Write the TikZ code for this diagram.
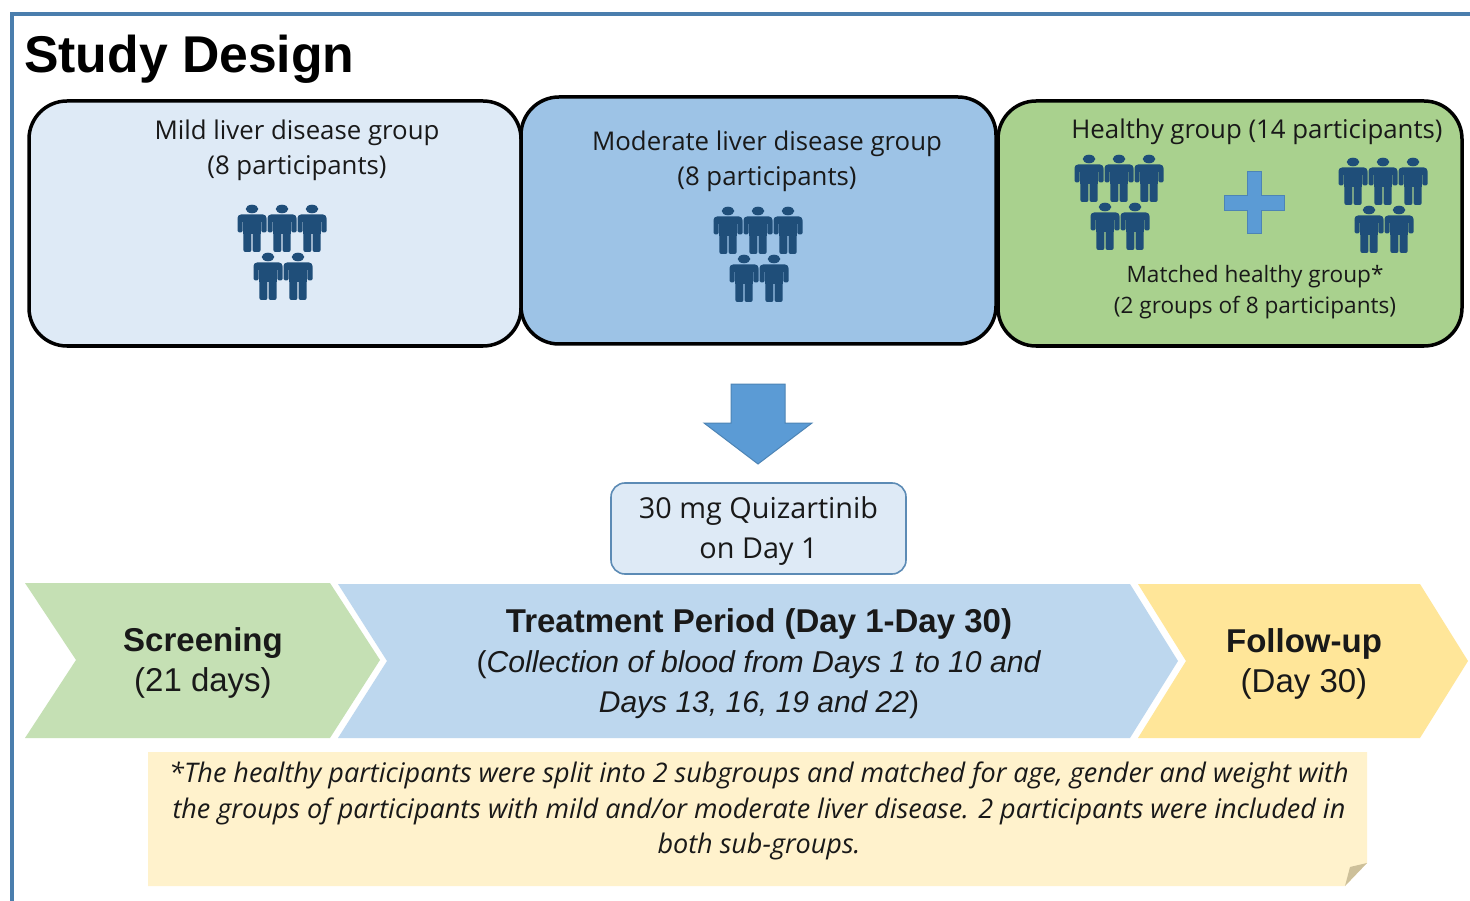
\documentclass[tikz,border=0pt]{standalone}
\usepackage{fontspec}
\setmainfont{Open Sans}
\newfontfamily\headfont{Liberation Sans}
\definecolor{frameblue}{HTML}{4A7EAD}
\definecolor{personblue}{HTML}{1F4E79}
\definecolor{lightblue}{HTML}{DEEAF6}
\definecolor{midblue}{HTML}{9DC3E6}
\definecolor{okgreen}{HTML}{A9D18E}
\definecolor{arrowblue}{HTML}{5B9BD5}
\definecolor{chgreen}{HTML}{C5E0B4}
\definecolor{chblue}{HTML}{BDD7EE}
\definecolor{chyellow}{HTML}{FFE699}
\definecolor{notecol}{HTML}{FFF2CC}
\definecolor{foldcol}{HTML}{CDC09A}
\tikzset{
  x=1pt,y=-1pt,
  groupbox/.style={draw=black,line width=3.5pt,rounded corners=38pt},
  body/.style={font=\fontsize{25.8}{35}\selectfont,align=center,inner sep=0pt,text=black!90},
  small/.style={font=\fontsize{22.6}{31}\selectfont,align=center,inner sep=0pt,text=black!90},
  chtext/.style={font=\fontsize{33}{40}\selectfont\headfont,align=center,inner sep=0pt,text=black!90},
  person/.pic={
    \fill[personblue] (0,5) ellipse [x radius=6.3,y radius=4.3];
    \fill[personblue,rounded corners=3.5pt] (-14.5,18) -- (-14.5,10.5) -- (14.5,10.5) -- (14.5,18) -- cycle;
    \fill[personblue,rounded corners=1.5pt] (-14.5,14) rectangle (-9.4,28.5);
    \fill[personblue,rounded corners=1.5pt] (9.4,14) rectangle (14.5,28.5);
    \fill[personblue] (-8.6,11) rectangle (8.6,30);
    \fill[personblue,rounded corners=2pt] (-8.6,26) rectangle (-0.6,48);
    \fill[personblue,rounded corners=2pt] (0.6,26) rectangle (8.6,48);
  },
  crowd/.pic={
    \pic at (-30,0) {person};
    \pic at (0,0) {person};
    \pic at (30,0) {person};
    \pic at (-14,48) {person};
    \pic at (16,48) {person};
  }
}
\begin{document}
\begin{tikzpicture}
\useasboundingbox (0,0) rectangle (1470,901);
\fill[white] (0,0) rectangle (1470,901);
\draw[frameblue,line width=3.2pt] (1470,14) -- (12,14) -- (12,901);
\node[anchor=west,inner sep=0pt,font=\fontsize{51.7}{51}\selectfont\headfont\bfseries] (title) at (24,59) {Study Design};

\path[groupbox,fill=lightblue] (29,101) rectangle (521,346);
\path[groupbox,fill=midblue] (521,97) rectangle (996,344);
\path[groupbox,fill=okgreen] (998,101) rectangle (1462,346);

\node[body] (mild) at (297,150) {Mild liver disease group\\(8 participants)};
\node[body] (moderate) at (767,161) {Moderate liver disease group\\(8 participants)};
\node[body] (healthy) at (1257,132) {Healthy group (14 participants)};
\node[small] (matched) at (1255,292) {Matched healthy group*\\(2 groups of 8 participants)};

\pic at (282,204) {crowd};
\pic at (758,206) {crowd};
\pic at (1119,154) {crowd};
\pic at (1383,157) {crowd};

\fill[arrowblue,draw=arrowblue!85!black,line width=1pt]
  (1247,172) -- (1261,172) -- (1261,196) -- (1284,196) -- (1284,211) -- (1261,211) -- (1261,234)
  -- (1247,234) -- (1247,211) -- (1224,211) -- (1224,196) -- (1247,196) -- cycle;

\fill[arrowblue,draw=arrowblue!85!black,line width=1pt]
  (731,384) -- (785,384) -- (785,423) -- (812,423) -- (758,464) -- (704,423) -- (731,423) -- cycle;

\node[draw=frameblue!90,line width=1.6pt,fill=lightblue,rounded corners=14pt,minimum width=295pt,minimum height=91pt,
  inner sep=0pt] (dose) at (758.5,528.5) {};
\node[font=\fontsize{28.8}{40}\selectfont,align=center,inner sep=0pt,text=black!90] (dosetext) at (758.5,531) {30 mg Quizartinib\\on Day 1};

\fill[chgreen] (25,583) -- (330,583) -- (380,660) -- (330,738) -- (25,738) -- (76,660) -- cycle;
\fill[chblue] (338,584) -- (1130,584) -- (1178,661) -- (1130,738) -- (338,738) -- (387,661) -- cycle;
\fill[chyellow] (1138,584) -- (1420,584) -- (1468,661) -- (1420,738) -- (1138,738) -- (1186,661) -- cycle;

\node[chtext] (screen) at (203,663) {\textbf{Screening}\\(21 days)};
\node[chtext] (treat) at (759,663.5) {\textbf{Treatment Period (Day 1-Day 30)}\\{\fontsize{30.2}{40}\selectfont(\textit{Collection of blood from Days 1 to 10 and}}\\{\fontsize{30}{40}\selectfont\textit{Days 13, 16, 19 and 22})}};
\node[chtext] (follow) at (1304,664) {\textbf{Follow-up}\\(Day 30)};

\fill[notecol] (148,752) -- (1367,752) -- (1367,863) -- (1345,886) -- (148,886) -- cycle;
\fill[foldcol] (1367,863) -- (1350,867) -- (1345,886) -- cycle;
\node[font=\fontsize{27}{35.5}\selectfont\itshape,align=center,inner sep=0pt,text=black!90] (note) at (759,811)
 {*The healthy participants were split into 2 subgroups and matched for age, gender and weight with\\
  the groups of participants with mild and/or moderate liver disease. 2 participants were included in\\
  both sub-groups.};
\end{tikzpicture}
\end{document}
